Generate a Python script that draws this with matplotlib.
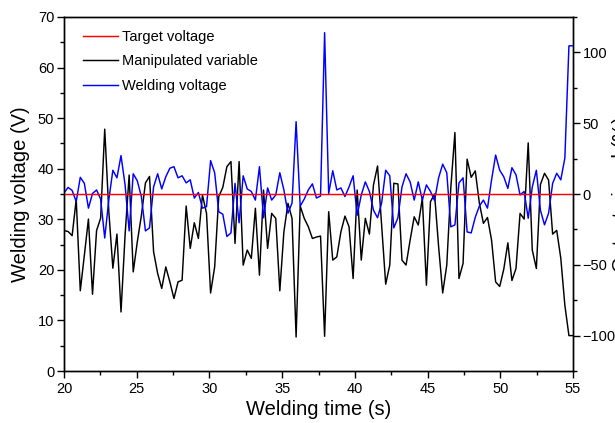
import numpy as np
import matplotlib
matplotlib.use("Agg")
import matplotlib.pyplot as plt
from matplotlib.ticker import MultipleLocator

plt.rcParams['font.family'] = ['Liberation Sans', 'DejaVu Sans']

# ---- data ----
t_start, t_end = 20.0, 55.0
target_voltage = 35.0

welding_voltage = [
    35.2, 36.3, 35.7, 33.5, 38.3, 37.1, 32.2, 35.1, 35.8, 34.0,
    26.3, 33.8, 39.7, 38.2, 42.6, 36.8, 27.7, 39.0, 37.6, 34.5,
    27.7, 28.3, 36.4, 39.0, 36.0, 38.4, 40.1, 40.4, 38.2, 38.6,
    37.2, 37.8, 34.2, 35.3, 32.2, 32.5, 41.6, 39.2, 31.5, 31.0,
    26.6, 27.3, 37.1, 29.3, 38.6, 36.0, 35.5, 33.8, 40.4, 30.3,
    36.2, 33.8, 34.8, 39.2, 35.8, 31.2, 33.2, 49.3, 32.6, 34.0,
    35.8, 37.0, 34.2, 34.6, 66.9, 35.1, 39.6, 35.8, 36.2, 34.5,
    36.4, 38.6, 30.8, 34.8, 37.4, 35.5, 31.8, 30.3, 33.2, 39.7,
    38.6, 28.3, 30.3, 36.4, 39.0, 37.4, 33.8, 37.4, 33.8, 36.8,
    35.5, 33.7, 38.2, 40.9, 39.2, 28.5, 28.9, 37.2, 38.2, 27.5,
    27.3, 30.4, 32.6, 33.8, 32.2, 37.8, 42.7, 39.7, 38.4, 36.1,
    40.2, 38.8, 34.8, 35.5, 30.2, 36.4, 39.7, 31.8, 28.9, 31.2,
    37.1, 39.1, 37.8, 42.1, 64.3, 64.3,
]

manipulated_variable = [
    -25.8, -26.5, -29.4, -3.8, -68.3, -43.2, -17.7, -70.8, -25.8, -17.0,
    45.8, -12.0, -52.4, -28.3, -83.3, -29.0, 13.4, -55.0, -33.8, -15.2,
    7.8, 12.4, -40.8, -56.1, -66.7, -51.5, -62.1, -73.8, -62.1, -60.9,
    -8.5, -38.4, -20.3, -31.4, -0.7, -13.7, -69.9, -51.5, -1.9, 4.7,
    19.3, 22.9, -34.9, 22.9, -50.2, -39.6, -45.5, -10.1, -57.3, 2.8,
    -38.4, -13.7, -17.2, -68.4, -26.7, -6.6, -17.2, -101.0, -8.5, -17.2,
    -23.1, -31.4, -30.4, -29.7, -100.5, -12.5, -46.7, -44.4, -26.7, -15.6,
    -23.1, -59.7, 2.8, -46.7, -17.2, -28.3, 6.4, 19.8, -21.9, -63.7,
    -50.2, 7.6, 7.1, -46.7, -50.2, -32.6, -16.1, -21.9, -3.0, -64.4,
    -5.4, 0.0, -37.3, -69.9, -50.2, 4.7, 43.4, -59.7, -49.0, 24.6,
    11.8, 16.3, -6.4, -20.7, -16.6, -32.6, -62.1, -65.3, -53.1, -34.5,
    -61.1, -52.6, -13.7, -17.7, 36.1, -39.6, -52.6, 6.7, 14.6, 9.9,
    -28.3, -25.7, -45.3, -78.6, -100.0, -100.0,
]

x_ticks = [20, 25, 30, 35, 40, 45, 50, 55]
left_ticks = [0, 10, 20, 30, 40, 50, 60, 70]
right_ticks = [-100, -50, 0, 50, 100]

t = np.linspace(t_start, t_end, len(welding_voltage))

# ---- figure ----
W, H = 615, 423
fig = plt.figure(figsize=(W / 100, H / 100), dpi=100)
ax1 = fig.add_axes([64 / W, 1 - 371 / H, (573 - 64) / W, (371 - 17) / H])
ax2 = ax1.twinx()
ax1.set_zorder(ax2.get_zorder() + 1)
ax1.patch.set_visible(False)

l_black, = ax2.plot(t, manipulated_variable, color='black', lw=1.05,
                    label='Manipulated variable')
l_blue, = ax1.plot(t, welding_voltage, color='#0000ff', lw=1.05,
                   label='Welding voltage')
l_red, = ax1.plot([t_start, t_end], [target_voltage, target_voltage],
                  color='#ff0000', lw=1.05, label='Target voltage')

ax1.set_xlim(20, 55)
ax1.set_ylim(0, 70)
ax2.set_ylim(-125, 125)

ax1.set_xticks(x_ticks)
ax1.set_yticks(left_ticks)
ax2.set_yticks(right_ticks)
ax1.xaxis.set_minor_locator(MultipleLocator(2.5))
ax1.yaxis.set_minor_locator(MultipleLocator(5))
ax2.yaxis.set_minor_locator(MultipleLocator(25))

for ax in (ax1, ax2):
    ax.tick_params(which='major', direction='out', length=5, width=1.0,
                   labelsize=10.5, colors='black')
    ax.tick_params(which='minor', direction='out', length=3, width=1.0)
    for s in ax.spines.values():
        s.set_linewidth(1.0)
        s.set_color('black')
ax1.tick_params(axis='x', pad=3)
ax1.tick_params(axis='y', pad=2)
ax2.tick_params(axis='y', pad=2)

ax1.set_xlabel('Welding time (s)', fontsize=14.5, labelpad=3)
ax1.set_ylabel('Welding voltage (V)', fontsize=14.5, labelpad=6)
ax2.set_ylabel('Output signal (%)', fontsize=14.5)
ax2.yaxis.set_label_coords(1.076, 0.5)

leg = ax1.legend(handles=[l_red, l_black, l_blue], loc='upper left',
                 bbox_to_anchor=((83 - 64) / 509, (371 - 30) / 354),
                 frameon=False, fontsize=10.5, borderpad=0, borderaxespad=0,
                 handlelength=2.4, handletextpad=0.25, labelspacing=0.72)

fig.savefig('out.png', dpi=100)
